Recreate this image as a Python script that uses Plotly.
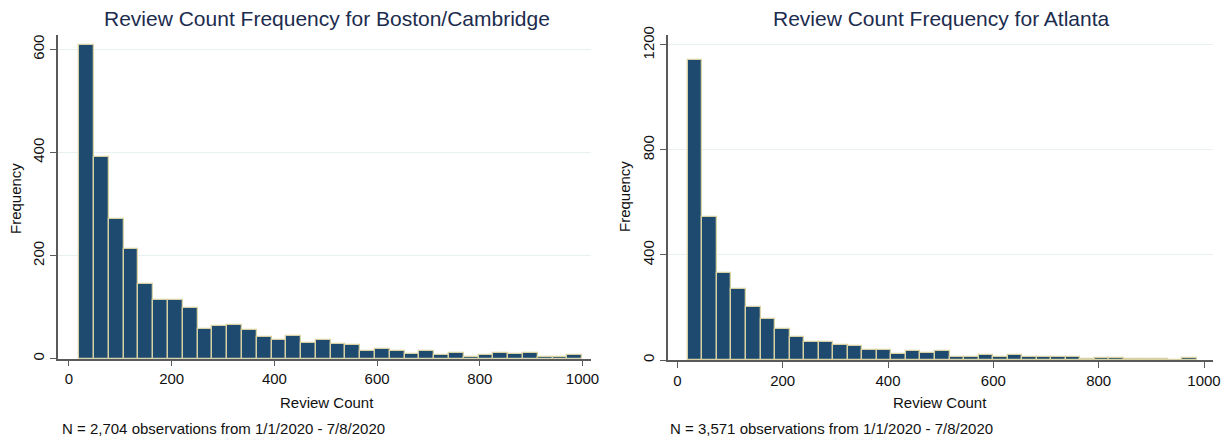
import plotly.graph_objects as go

# Histogram counts per bin (Stata-style equal-width bins)
BOS_BIN_START = 20.0
BOS_BIN_WIDTH = 28.8
bos_counts = [608, 392, 271, 213, 144, 113, 113, 98, 58, 64, 66, 56, 43, 36,
              44, 30, 36, 29, 26, 15, 19, 14, 10, 14, 7, 11, 4, 8, 12, 9,
              12, 4, 4, 7]

ATL_BIN_START = 20.0
ATL_BIN_WIDTH = 27.6
atl_counts = [1144, 545, 331, 272, 203, 158, 119, 89, 70, 70, 58, 52, 38, 38,
              24, 36, 25, 33, 13, 13, 18, 10, 18, 12, 11, 11, 11, 3, 6, 6,
              3, 3, 3, 0, 7]

x_ticks = [0, 200, 400, 600, 800, 1000]
bos_y_ticks = [0, 200, 400, 600]
atl_y_ticks = [0, 400, 800, 1200]

bos_title = "Review Count Frequency for Boston/Cambridge"
atl_title = "Review Count Frequency for Atlanta"
bos_note = "N = 2,704 observations from 1/1/2020 - 7/8/2020"
atl_note = "N = 3,571 observations from 1/1/2020 - 7/8/2020"

W, H = 1227, 441
FONT = "Liberation Sans, Arial, Helvetica, sans-serif"
BAR_FILL = "#1d4a6e"
BAR_EDGE = "#d8d1a4"
GRID = "#e9f0f2"
AXIS = "#5a5a5a"
TITLE_COLOR = "#1c2c4e"


def centers(start, width, n):
    return [start + width * (i + 0.5) for i in range(n)]


fig = go.Figure()
fig.add_trace(go.Bar(
    x=centers(BOS_BIN_START, BOS_BIN_WIDTH, len(bos_counts)), y=bos_counts,
    width=BOS_BIN_WIDTH, marker=dict(color=BAR_FILL, line=dict(color=BAR_EDGE, width=1.3)),
    xaxis="x", yaxis="y", showlegend=False, hoverinfo="x+y"))
fig.add_trace(go.Bar(
    x=centers(ATL_BIN_START, ATL_BIN_WIDTH, len(atl_counts)), y=atl_counts,
    width=ATL_BIN_WIDTH, marker=dict(color=BAR_FILL, line=dict(color=BAR_EDGE, width=1.3)),
    xaxis="x2", yaxis="y2", showlegend=False, hoverinfo="x+y"))


def px_x(p):
    return p / W


def px_y(p):
    return 1 - p / H


common_x = dict(showline=True, linecolor=AXIS, linewidth=1.5, ticks="outside",
                ticklen=6, tickwidth=1.2, tickcolor=AXIS, showgrid=False,
                zeroline=False, tickvals=x_ticks,
                tickfont=dict(family=FONT, size=15, color="#111"))
common_y = dict(showline=True, linecolor=AXIS, linewidth=1.5, ticks="outside",
                ticklen=6, tickwidth=1.2, tickcolor=AXIS, showgrid=True,
                gridcolor=GRID, gridwidth=1.2, zeroline=False, tickangle=-90,
                tickfont=dict(family=FONT, size=15, color="#111"))

fig.update_layout(
    width=W, height=H,
    margin=dict(l=0, r=0, t=0, b=0, autoexpand=False),
    paper_bgcolor="white", plot_bgcolor="white",
    bargap=0,
    xaxis=dict(domain=[px_x(58), px_x(591)], range=[-21.4, 1016.5], anchor="y", **common_x),
    yaxis=dict(domain=[px_y(358.7), px_y(35)], range=[0, 628], anchor="x",
               tickvals=bos_y_ticks, **common_y),
    xaxis2=dict(domain=[px_x(668), px_x(1212.7)], range=[-17.7, 1016.5], anchor="y2", **common_x),
    yaxis2=dict(domain=[px_y(360), px_y(35)], range=[0, 1238], anchor="x2",
                tickvals=atl_y_ticks, **common_y),
)

annotations = []


def text(x, y, s, size, color="#111", xanchor="center", angle=0):
    annotations.append(dict(x=px_x(x), y=px_y(y), xref="paper", yref="paper", text=s,
                            showarrow=False, xanchor=xanchor, yanchor="middle",
                            textangle=angle, font=dict(family=FONT, size=size, color=color)))


# Panel titles
text(327, 18, bos_title, 21, TITLE_COLOR)
text(941, 18, atl_title, 21, TITLE_COLOR)
# Axis titles
text(15, 199, "Frequency", 15, angle=-90)
text(624, 197, "Frequency", 15, angle=-90)
text(327, 402, "Review Count", 15)
text(940, 402, "Review Count", 15)
# Notes
text(60, 428, bos_note, 15, xanchor="left")
text(668, 428, atl_note, 15, xanchor="left")

fig.update_layout(annotations=annotations)
fig.write_html("out.html")
